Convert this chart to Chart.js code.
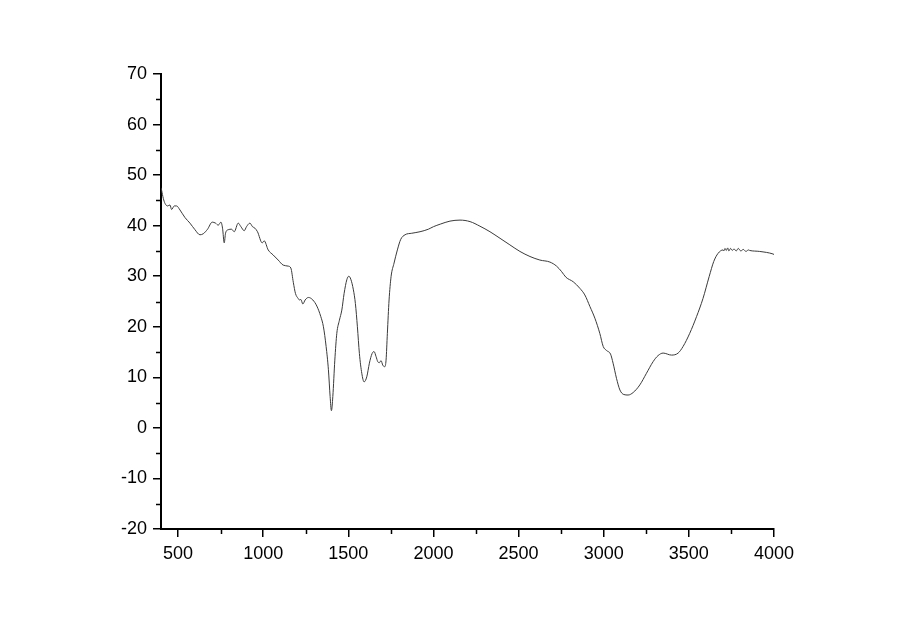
<!DOCTYPE html>
<html>
<head>
<meta charset="utf-8">
<script src="https://cdn.jsdelivr.net/npm/chart.js@4"></script>
<style>
    body { margin: 0; background: #fff; }
    canvas { display: block; }
</style>
</head>
<body>
<canvas id="spectrum" width="900" height="635"></canvas>
<script>
// numero de onda (cm-1)
const wavenumber = [
    400, 403.5, 413.5, 423.5, 438.7, 452.8, 462.2, 478, 491.5, 511.5,
    540.8, 570.1, 599.5, 628.8, 648.2, 673.4, 701, 720.3, 736.2, 752,
    761.4, 771.4, 779, 794.8, 814.2, 830, 853.5, 869.3, 888.7, 902.2,
    922.1, 937.4, 951.5, 966.7, 994.3, 1006, 1029.5, 1058.8, 1088.2, 1117.5,
    1146.8, 1162.7, 1177, 1189.6, 1205.5, 1213.1, 1221.3, 1233, 1246.5, 1265.9,
    1291.7, 1315.2, 1338.6, 1353.9, 1369.7, 1383.2, 1393.2, 1400.8, 1409.1, 1420.8,
    1432.5, 1447.8, 1461.9, 1475.4, 1491.2, 1502.9, 1514.7, 1529.9, 1541.6, 1553.4,
    1565.1, 1579.2, 1592.7, 1608.5, 1623.8, 1639.6, 1651.3, 1663.1, 1673, 1682.4,
    1692.4, 1702.4, 1714.1, 1721.7, 1729.4, 1739.4, 1751.1, 1768.7, 1788.1, 1808,
    1833.2, 1872.5, 1921.2, 1970, 2000, 2040, 2097, 2156, 2215, 2273,
    2332, 2391, 2449, 2508, 2567, 2625, 2684, 2723, 2753, 2778,
    2821, 2860, 2889, 2919, 2948, 2977, 2997, 3017, 3040, 3055,
    3075, 3095, 3118, 3143, 3173, 3212, 3251, 3290, 3319, 3349,
    3398, 3437, 3466, 3505, 3545, 3583, 3619, 3646, 3671, 3701,
    3705, 3712, 3720, 3728, 3735, 3745, 3755, 3765, 3778, 3790,
    3805, 3820, 3835, 3850, 3857, 3916, 3994, 4000
];

// transmitancia (%)
const transmittance = [
    47.5, 47.0, 45.4, 44.4, 43.9, 44.1, 43.2, 43.9, 43.9, 43.1,
    41.6, 40.5, 39.2, 38.2, 38.4, 39.3, 40.7, 40.5, 40.1, 40.7,
    39.5, 36.6, 38.5, 39.2, 39.3, 38.8, 40.5, 39.8, 39.0, 39.8,
    40.5, 39.8, 39.5, 38.8, 36.6, 37.0, 35.2, 34.2, 33.2, 32.2,
    32.0, 31.6, 28.8, 26.6, 25.6, 25.3, 25.4, 24.5, 25.3, 25.8,
    25.3, 24.1, 22.0, 20.0, 16.1, 11.5, 6.2, 3.4, 6.2, 13.4,
    18.7, 21.3, 23.3, 26.6, 29.3, 30.0, 29.4, 27.3, 24.6, 20.0,
    14.7, 10.8, 9.1, 10.1, 12.8, 14.7, 15.1, 14.1, 13.1, 12.9,
    13.3, 12.4, 12.1, 13.4, 18.7, 25.3, 29.9, 32.6, 35.2, 37.3,
    38.2, 38.5, 38.8, 39.3, 39.8, 40.3, 40.9, 41.1, 40.8, 39.9,
    38.8, 37.5, 36.2, 34.9, 33.9, 33.2, 32.8, 32.0, 30.9, 29.8,
    28.9, 27.6, 26.3, 24.0, 21.7, 18.7, 16.1, 15.3, 14.6, 12.8,
    9.8, 7.5, 6.6, 6.5, 7.0, 8.5, 10.8, 13.1, 14.3, 14.8,
    14.4, 14.8, 16.1, 18.7, 22.0, 25.6, 29.9, 32.9, 34.5, 35.2,
    35.0, 35.5, 35.1, 35.6, 35.0, 35.5, 35.1, 35.4, 35.0, 35.5,
    35.0, 35.3, 34.9, 35.2, 35.1, 34.9, 34.4, 34.3
];

const xTicks = [500, 1000, 1500, 2000, 2500, 3000, 3500, 4000];
const xMinor = [750, 1250, 1750, 2250, 2750, 3250, 3750];
const yTicks = [-20, -10, 0, 10, 20, 30, 40, 50, 60, 70];
const yMinor = [-15, -5, 5, 15, 25, 35, 45, 55, 65];

// marcas menores de los ejes
const minorTicks = {
    id: "minorTicks",
    afterDraw(chart) {
        const { ctx, chartArea, scales } = chart;
        ctx.save();
        ctx.strokeStyle = "#000";
        ctx.lineWidth = 1.5;
        ctx.beginPath();
        yMinor.forEach(v => {
            const py = Math.round(scales.y.getPixelForValue(v)) + 0.5;
            ctx.moveTo(chartArea.left - 5, py);
            ctx.lineTo(chartArea.left, py);
        });
        xMinor.forEach(v => {
            const px = Math.round(scales.x.getPixelForValue(v)) + 0.5;
            ctx.moveTo(px, chartArea.bottom);
            ctx.lineTo(px, chartArea.bottom + 5);
        });
        ctx.stroke();
        ctx.restore();
    }
};

const font = { family: "'Liberation Sans', Arial, sans-serif", size: 18 };

new Chart(document.getElementById("spectrum").getContext("2d"), {
    type: "line",
    data: {
        labels: wavenumber,
        datasets: [{
            data: wavenumber.map((w, i) => ({ x: w, y: transmittance[i] })),
            borderColor: "#3a3a3a",
            borderWidth: 1,
            pointRadius: 0,
            fill: false,
            cubicInterpolationMode: "monotone"
        }]
    },
    options: {
        responsive: false,
        animation: false,
        layout: { padding: { top: 74, right: 126, bottom: 0, left: 0 } },
        plugins: { legend: { display: false }, tooltip: { enabled: false } },
        scales: {
            x: {
                type: "linear",
                min: 400,
                max: 4000,
                afterBuildTicks: s => { s.ticks = xTicks.map(v => ({ value: v })); },
                afterFit: s => { s.height = 106; },
                grid: { drawOnChartArea: false, tickLength: 8, color: "#000", lineWidth: 1.5 },
                border: { color: "#000", width: 2 },
                ticks: { color: "#000", font: font, padding: 6, maxRotation: 0, callback: v => String(v) }
            },
            y: {
                min: -20,
                max: 70,
                afterBuildTicks: s => { s.ticks = yTicks.map(v => ({ value: v })); },
                afterFit: s => { s.width = 161; },
                grid: { drawOnChartArea: false, tickLength: 8, color: "#000", lineWidth: 1.5 },
                border: { color: "#000", width: 2 },
                ticks: { color: "#000", font: font, padding: 6, callback: v => String(v) }
            }
        }
    },
    plugins: [minorTicks]
});
</script>
</body>
</html>
